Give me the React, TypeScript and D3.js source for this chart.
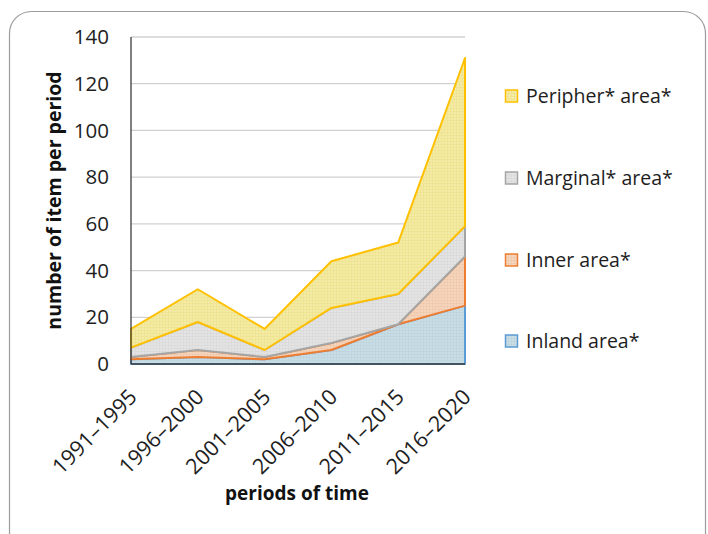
import * as d3 from 'd3';

const periods = ['1991–1995', '1996–2000', '2001–2005', '2006–2010', '2011–2015', '2016–2020'];
const inland = [2, 3, 2, 6, 17, 25];
const inner = [1, 3, 1, 3, 0, 21];
const marginal = [4, 12, 3, 15, 13, 13];
const peripher = [8, 14, 9, 20, 22, 72];
const seriesKeys = ['inland', 'inner', 'marginal', 'peripher'];
const seriesNames = ['Inland area*', 'Inner area*', 'Marginal* area*', 'Peripher* area*'];
const yTicks = [0, 20, 40, 60, 80, 100, 120, 140];

const fills = ['#C9DDE5', '#F5D5BD', '#E4E4E4', '#F4EBA6'];
const hatch = ['#B4CDD8', '#EABF9E', '#D2D2D2', '#EADB7E'];
const strokes = ['#5B9BD5', '#ED7D31', '#A5A5A5', '#FFC000'];

const W = 708;
const H = 534;
const plot = { left: 131, right: 465, top: 37, bottom: 364 };
const FONT = '"Open Sans", sans-serif';

export default function App() {
  const rows = periods.map((p, i) => ({
    period: p,
    inland: inland[i],
    inner: inner[i],
    marginal: marginal[i],
    peripher: peripher[i],
  }));

  const stacked = d3.stack<any>().keys(seriesKeys)(rows);

  const x = d3.scalePoint().domain(periods).range([plot.left, plot.right]);
  const y = d3.scaleLinear().domain([0, 140]).range([plot.bottom, plot.top]);

  const area = d3
    .area<any>()
    .x((d) => x(d.data.period)!)
    .y0((d) => y(d[0]))
    .y1((d) => y(d[1]));

  const legendRows = [3, 2, 1, 0];
  const legendY = [96, 178, 260, 341];

  return (
    <svg
      width={W}
      height={H}
      style={{ position: 'absolute', left: 0, top: 0, background: '#fff' }}
    >
      <defs>
        {seriesKeys.map((k, i) => (
          <pattern key={k} id={`pat-${k}`} width={3} height={3} patternUnits="userSpaceOnUse">
            <rect width={3} height={3} fill={fills[i]} />
            <path d="M0 0.5H3M0.5 0V3" stroke={hatch[i]} strokeWidth={0.6} opacity={0.7} />
          </pattern>
        ))}
      </defs>

      <rect x={9.5} y={11.5} width={696} height={560} rx={22} fill="none" stroke="#9C9C9C" strokeWidth={1.2} />

      {/* gridlines */}
      {yTicks.slice(1).map((t) => (
        <line key={t} x1={plot.left} x2={plot.right} y1={y(t)} y2={y(t)} stroke="#D0D0D0" strokeWidth={1.3} />
      ))}

      {/* stacked areas */}
      {stacked.map((s, i) => (
        <path
          key={s.key}
          d={area(s as any)!}
          fill={`url(#pat-${s.key})`}
          stroke={strokes[i]}
          strokeWidth={2}
          strokeLinejoin="round"
        />
      ))}

      {/* axes */}
      <line x1={plot.left} x2={plot.left} y1={plot.top} y2={plot.bottom} stroke="#3C3C3C" strokeWidth={1.3} />
      <line x1={plot.left} x2={plot.right} y1={plot.bottom} y2={plot.bottom} stroke="#3C3C3C" strokeWidth={1.5} />

      {yTicks.map((t) => (
        <text
          key={t}
          x={109}
          y={y(t)}
          dy="0.35em"
          textAnchor="end"
          fontFamily={FONT}
          fontSize={20.5}
          fill="#1E1E1E"
        >
          {t}
        </text>
      ))}

      {periods.map((p) => (
        <text
          key={p}
          transform={`translate(${x(p)! + 2},${plot.bottom + 29}) rotate(-45)`}
          textAnchor="end"
          dy="0.35em"
          fontFamily={FONT}
          fontSize={21.5}
          fill="#1E1E1E"
        >
          {p}
        </text>
      ))}

      <text
        transform={`translate(54,${(plot.top + plot.bottom) / 2}) rotate(-90)`}
        textAnchor="middle"
        dy="0.35em"
        fontFamily={FONT}
        fontWeight="bold"
        fontSize={19.5}
        fill="#111"
      >
        number of item per period
      </text>

      <text
        x={297}
        y={500}
        textAnchor="middle"
        fontFamily={FONT}
        fontWeight="bold"
        fontSize={19}
        fill="#111"
      >
        periods of time
      </text>

      {legendRows.map((si, j) => (
        <g key={seriesKeys[si]} transform={`translate(505,${legendY[j]})`}>
          <rect x={0.5} y={-6} width={12} height={12} fill={`url(#pat-${seriesKeys[si]})`} stroke={strokes[si]} strokeWidth={1.5} />
          <text x={21} dy="0.35em" fontFamily={FONT} fontSize={19.5} fill="#1E1E1E">
            {seriesNames[si]}
          </text>
        </g>
      ))}
    </svg>
  );
}
